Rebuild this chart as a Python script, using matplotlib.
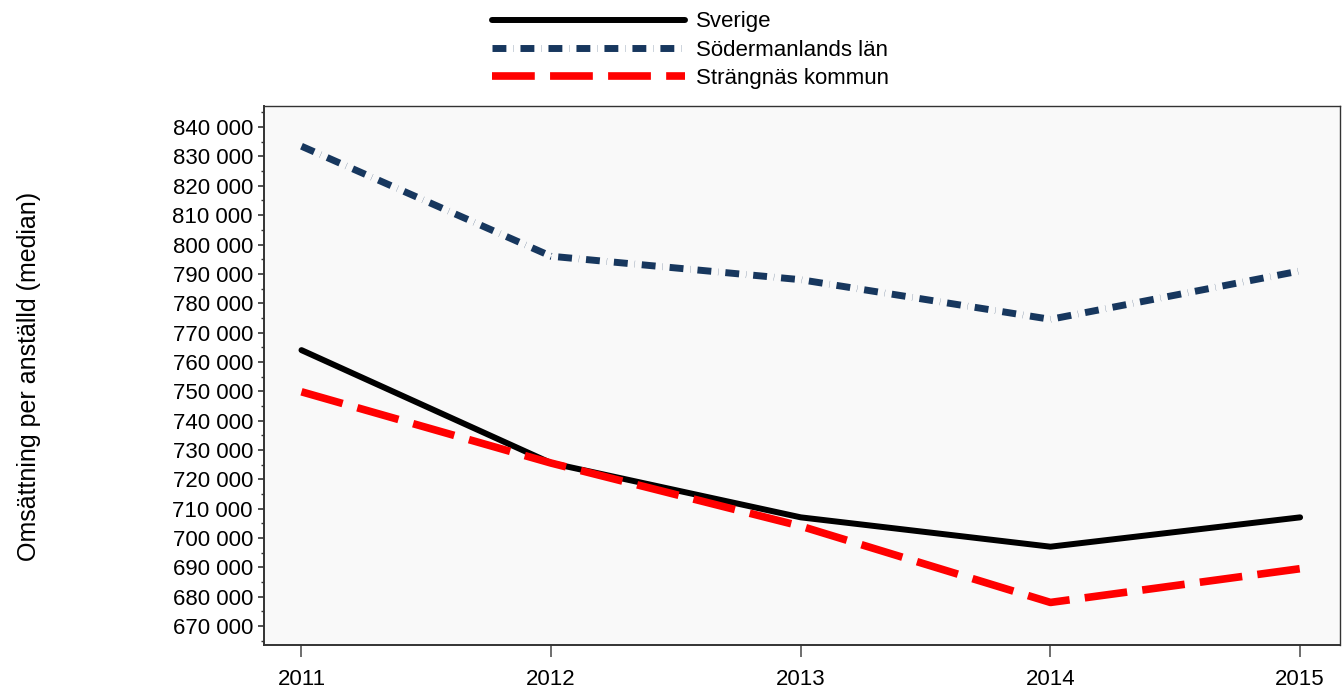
import matplotlib.pyplot as plt
from matplotlib.ticker import FixedLocator, MultipleLocator, FuncFormatter

plt.rcParams['font.family'] = ['Liberation Sans', 'DejaVu Sans']

# Data
years = [2011, 2012, 2013, 2014, 2015]
sverige = [764000, 725500, 707000, 697000, 707000]
sodermanland = [833500, 796000, 788000, 774500, 791000]
strangnas = [749800, 725500, 704000, 678000, 689500]

fig = plt.figure(figsize=(13.43, 6.93), dpi=100)
ax = fig.add_axes([0.1966, 0.0693, 0.8012, 0.7777])
ax.set_facecolor('#F9F9F9')

l1, = ax.plot(years, sverige, color='black', lw=4.3, solid_capstyle='round',
              solid_joinstyle='round', label='Sverige')
l2, = ax.plot(years, sodermanland, color='#17375E', lw=5,
              dashes=[2.0, 1.0, 0.03, 1.0], label='Södermanlands län')
l3, = ax.plot(years, strangnas, color='#FF0000', lw=5.5,
              dashes=[5.6, 2.0], label='Strängnäs kommun')

ax.set_xlim(2010.85, 2015.16)
ax.set_ylim(663500, 847200)

ax.xaxis.set_major_locator(FixedLocator(years))
ax.yaxis.set_major_locator(MultipleLocator(10000))
ax.yaxis.set_minor_locator(MultipleLocator(5000))
ax.yaxis.set_major_formatter(FuncFormatter(lambda v, p: f'{int(v):,}'.replace(',', ' ') if 670000 <= v <= 840000 else ''))

ax.tick_params(axis='x', length=8.6, width=1.2, color='#555555', pad=9, labelsize=16)
ax.tick_params(axis='y', which='major', length=4, width=1.2, color='#333333', pad=4, labelsize=16)
ax.tick_params(axis='y', which='minor', length=2.5, width=1, color='#333333')

for s in ['left', 'bottom']:
    ax.spines[s].set_linewidth(1.4)
    ax.spines[s].set_color('#333333')
for s in ['top', 'right']:
    ax.spines[s].set_linewidth(1.0)
    ax.spines[s].set_color('#333333')

# Подпись оси y
fig.text(0.0216, 0.457, 'Omsättning per anställd (median)', rotation=90,
         ha='center', va='center', fontsize=18)

# Легенда сверху
fig.legend(handles=[l1, l2, l3], loc='upper left', bbox_to_anchor=(0.355, 1.006),
           frameon=False, fontsize=16, handlelength=8.65, handletextpad=0.5,
           labelspacing=0.33, borderpad=0.2)

plt.savefig('out.png', dpi=100)
